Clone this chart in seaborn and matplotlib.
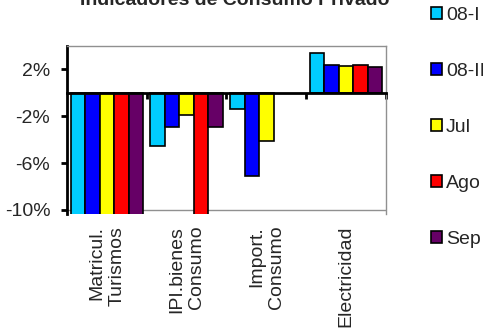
import numpy as np
import pandas as pd
import matplotlib
matplotlib.use("Agg")
import matplotlib.pyplot as plt
from matplotlib.patches import Patch
import seaborn as sns

# Indicators and periods
categories = ["Matricul.\nTurismos", "IPI.bienes\nConsumo", "Import.\nConsumo", "Electricidad"]
periods = ["08-I", "08-II", "Jul", "Ago", "Sep"]

# Year-on-year change (%) per indicator, one list per period
v_08_I = [-24.0, -4.5, -1.35, 3.4]
v_08_II = [-27.0, -2.9, -7.1, 2.4]
v_jul = [-25.0, -1.9, -4.1, 2.3]
v_ago = [-23.0, -11.0, np.nan, 2.4]
v_sep = [-26.0, -2.9, np.nan, 2.2]

colors = ["#00CCFF", "#0000FF", "#FFFF00", "#FF0000", "#660066"]

rows = []
for per, vals in zip(periods, [v_08_I, v_08_II, v_jul, v_ago, v_sep]):
    for cat, v in zip(categories, vals):
        rows.append({"Indicador": cat, "Periodo": per, "Valor": v})
df = pd.DataFrame(rows)

sns.set_theme(style="white")
plt.rcParams["font.family"] = ["Liberation Sans", "DejaVu Sans"]

fs = 14

fig = plt.figure(figsize=(4.83, 3.31), dpi=100)
ax = fig.add_axes([67 / 483, 1 - 214 / 331, (386 - 67) / 483, (214 - 46) / 331])

sns.barplot(data=df, x="Indicador", y="Valor", hue="Periodo", order=categories,
            hue_order=periods, palette=colors, width=0.91, saturation=1,
            edgecolor="black", linewidth=1.2, legend=False, ax=ax, errorbar=None)

ax.set_ylim(-10.35, 4)
ax.set_xlim(-0.5, len(categories) - 0.5)
ax.set_yticks([2, -2, -6, -10])
ax.set_yticklabels(["2%", "-2%", "-6%", "-10%"], fontsize=fs)
ax.set_xlabel("")
ax.set_ylabel("")

# Frame: black value axis and zero line, grey border elsewhere
ax.spines["left"].set_color("black")
ax.spines["left"].set_linewidth(2)
ax.spines["top"].set_color("#909090")
ax.spines["right"].set_color("#909090")
ax.spines["top"].set_linewidth(1)
ax.spines["right"].set_linewidth(1)
ax.spines["bottom"].set_position(("data", 0))
ax.spines["bottom"].set_color("black")
ax.spines["bottom"].set_linewidth(2)
ax.spines["bottom"].set_zorder(5)
ax.axhline(-10, color="#909090", lw=1, zorder=0)

ax.tick_params(axis="y", direction="out", length=4, width=2, color="black",
               left=True, pad=8)
ax.set_xticks(np.arange(len(categories)) + 0.5)
ax.set_xticklabels([])
ax.tick_params(axis="x", direction="out", length=4, width=2, color="black",
               bottom=True)

# Category names below the plot, rotated
for i, cat in enumerate(categories):
    ax.annotate(cat, xy=(i, 0), xycoords=ax.get_xaxis_transform(),
                xytext=(0, -8.5), textcoords="offset points",
                rotation=90, ha="center", va="top", multialignment="right",
                fontsize=fs, linespacing=1.2)

fig.text(235 / 483, 1 - 5 / 331, "Indicadores de Consumo Privado",
         ha="center", va="baseline", fontsize=fs, fontweight="bold")

handles = [Patch(facecolor=c, edgecolor="black", linewidth=1.2, label=p)
           for c, p in zip(colors, periods)]
fig.legend(handles=handles, loc="upper left", bbox_to_anchor=(431 / 483, 1 - 7 / 331),
           frameon=False, fontsize=fs, handlelength=0.58, handleheight=0.58,
           handletextpad=0.2, labelspacing=2.0, borderaxespad=0, borderpad=0)

fig.savefig("out.png", dpi=100)
